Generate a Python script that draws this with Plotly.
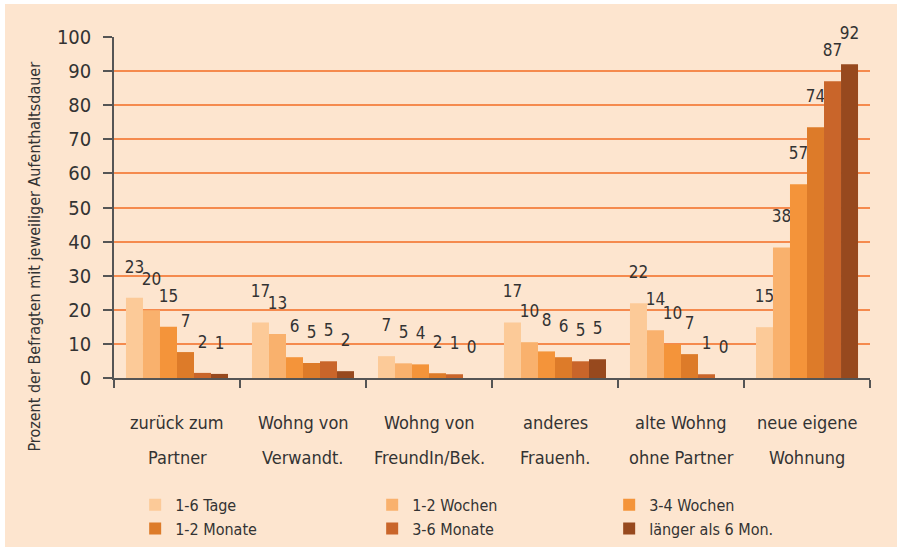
import plotly.graph_objects as go

FONT = "Liberation Sans Narrow, DejaVu Sans Condensed, Arial Narrow, sans-serif"
TXT = "#333333"
BG = "#FDE5CF"

categories = ["zurück zum Partner", "Wohng von Verwandt.", "Wohng von FreundIn/Bek.",
              "anderes Frauenh.", "alte Wohng ohne Partner", "neue eigene Wohnung"]
cat_line1 = ["zurück zum", "Wohng von", "Wohng von", "anderes", "alte Wohng", "neue eigene"]
cat_line2 = ["Partner", "Verwandt.", "FreundIn/Bek.", "Frauenh.", "ohne Partner", "Wohnung"]

series_names = ["1-6 Tage", "1-2 Wochen", "3-4 Wochen", "1-2 Monate", "3-6 Monate", "länger als 6 Mon."]
series_colors = ["#FCCA98", "#F9B16D", "#F4943A", "#DD7B29", "#C9652A", "#97491E"]

# bar heights (as drawn) per series, across categories
values = [
    [23.5, 16.3, 6.4, 16.3, 21.9, 14.9],   # 1-6 Tage
    [19.9, 12.9, 4.3, 10.5, 14.0, 38.3],   # 1-2 Wochen
    [15.0, 6.1, 4.0, 7.8, 9.9, 56.8],      # 3-4 Wochen
    [7.6, 4.4, 1.4, 6.1, 7.0, 73.5],       # 1-2 Monate
    [1.5, 4.9, 1.1, 4.9, 1.1, 87.0],       # 3-6 Monate
    [1.2, 2.0, 0.0, 5.5, 0.0, 92.0],       # länger als 6 Mon.
]
# value labels as printed
labels = [
    [23, 17, 7, 17, 22, 15],
    [20, 13, 5, 10, 14, 38],
    [15, 6, 4, 8, 10, 57],
    [7, 5, 2, 6, 7, 74],
    [2, 5, 1, 5, 1, 87],
    [1, 2, 0, 5, 0, 92],
]

y_ticks = list(range(0, 101, 10))
y_title = "Prozent der Befragten mit jeweiliger Aufenthaltsdauer"

fig = go.Figure()
for name, color, vals, labs in zip(series_names, series_colors, values, labels):
    fig.add_trace(go.Bar(
        name=name, x=categories, y=vals, marker=dict(color=color, line=dict(width=0)),
        text=[f"{l}<br><span style='font-size:1px'>&nbsp;</span>" for l in labs],
        textposition="outside",
        constraintext="none", cliponaxis=False,
        outsidetextfont=dict(family=FONT, size=17, color=TXT),
        hoverinfo="skip",
    ))

annotations = []
for c, l1, l2 in zip(categories, cat_line1, cat_line2):
    annotations.append(dict(x=c, xref="x", y=0, yref="paper", text=l1, showarrow=False,
                            yshift=-44, yanchor="middle",
                            font=dict(family=FONT, size=18, color=TXT)))
    annotations.append(dict(x=c, xref="x", y=0, yref="paper", text=l2, showarrow=False,
                            yshift=-79, yanchor="middle",
                            font=dict(family=FONT, size=18, color=TXT)))
annotations.append(dict(x=-0.105, xref="paper", y=0.355, yref="paper", text=y_title,
                        textangle=-90, showarrow=False, xanchor="center", yanchor="middle",
                        font=dict(family=FONT, size=16, color=TXT)))

fig.update_layout(
    width=897, height=543,
    margin=dict(l=109, r=32, t=33, b=169, autoexpand=False),
    paper_bgcolor=BG, plot_bgcolor=BG,
    barmode="group", bargap=0.19, bargroupgap=0,
    showlegend=True,
    legend=dict(orientation="h", x=0.028, y=-0.322, xanchor="left", yanchor="top",
                entrywidth=192, entrywidthmode="pixels",
                font=dict(family=FONT, size=16, color=TXT), bgcolor="rgba(0,0,0,0)",
                itemclick=False, tracegroupgap=0),
    annotations=annotations,
    font=dict(family=FONT, color=TXT),
)
fig.update_xaxes(
    type="category", showticklabels=False, showgrid=False,
    showline=True, linecolor="#555555", linewidth=1.5,
    ticks="outside", tickson="boundaries", ticklen=8, tickcolor="#555555", tickwidth=1.5,
)
fig.update_yaxes(
    range=[0, 100], tickvals=y_ticks, showgrid=True, gridcolor="#F58A4E", gridwidth=1.5,
    showline=True, linecolor="#555555", linewidth=1.5, zeroline=False,
    ticks="outside", ticklen=9, tickcolor="#555555", tickwidth=1.5,
    tickfont=dict(family=FONT, size=20, color=TXT), ticklabelstandoff=8,
)

fig.write_html("out.html", post_script="document.body.style.margin='4px 0 0 5px';")
